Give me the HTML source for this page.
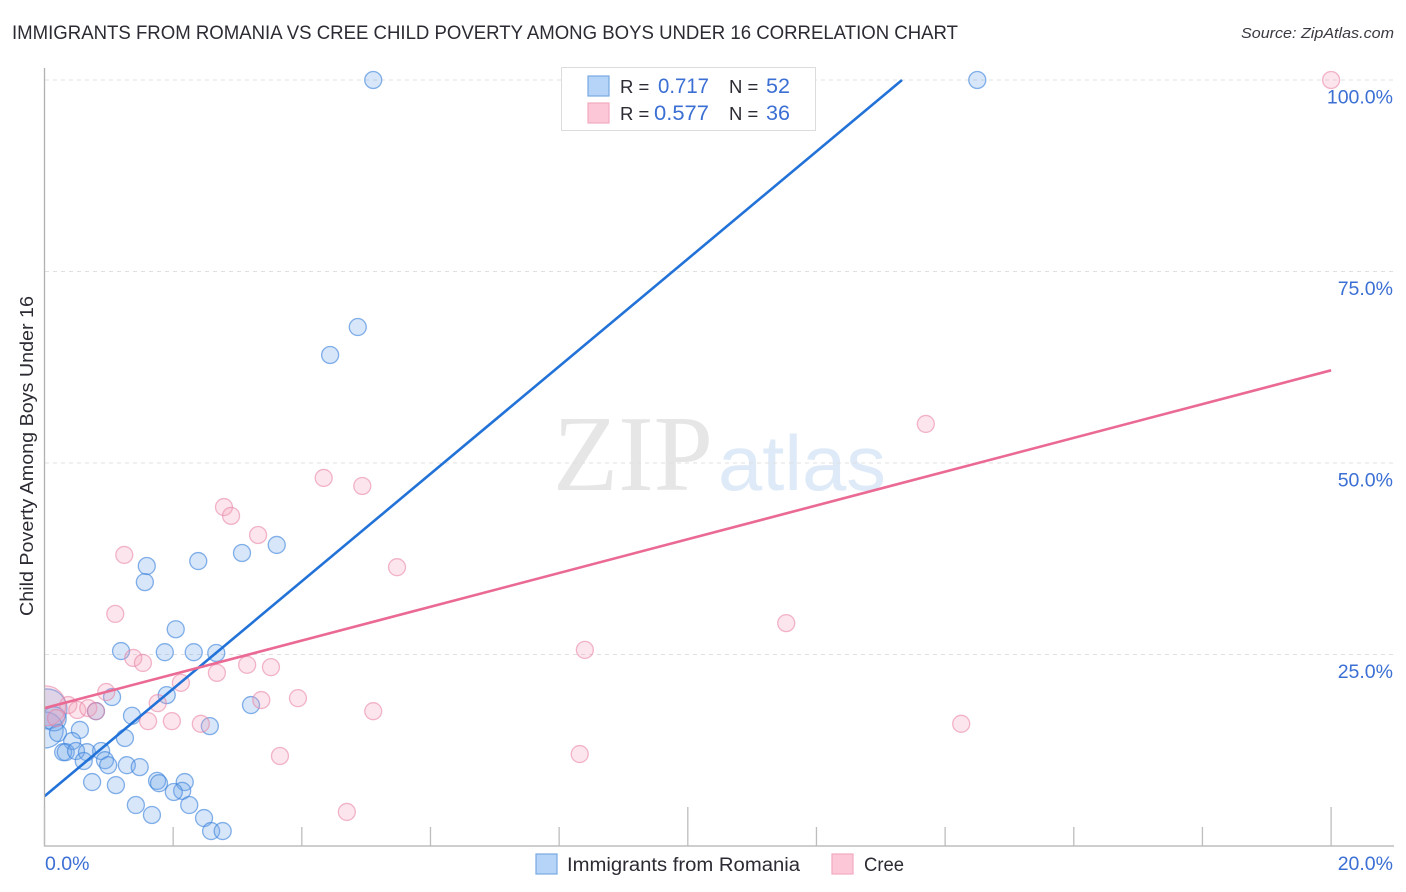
<!DOCTYPE html>
<html lang="en">
<head>
<meta charset="utf-8">
<title>Immigrants from Romania vs Cree Child Poverty Correlation Chart</title>
<style>
html,body{margin:0;padding:0;background:#fff}
svg{display:block}
text{font-family:"Liberation Sans",sans-serif}
</style>
</head>
<body>
<svg id="chart" xmlns="http://www.w3.org/2000/svg" width="1406" height="892" viewBox="0 0 1406 892">
  <defs>
    <clipPath id="plot-clip"><rect x="45" y="60" width="1349" height="786"/></clipPath>
  </defs>
  <text x="12" y="39" font-size="19.5" fill="#2b2b33" textLength="946" lengthAdjust="spacingAndGlyphs">IMMIGRANTS FROM ROMANIA VS CREE CHILD POVERTY AMONG BOYS UNDER 16 CORRELATION CHART</text>
  <text x="1394" y="38" font-size="15" font-style="italic" fill="#3a3a42" text-anchor="end" textLength="153" lengthAdjust="spacingAndGlyphs">Source: ZipAtlas.com</text>

  <g id="watermark">
    <text x="553" y="490" font-size="108" fill="#e6e6e6" textLength="160" lengthAdjust="spacingAndGlyphs" style="font-family:'Liberation Serif',serif">ZIP</text>
    <text x="718" y="490" font-size="78" fill="#deeaf8" textLength="168" lengthAdjust="spacingAndGlyphs">atlas</text>
  </g>

  <g id="grid"></g>
  <g id="points-blue" clip-path="url(#plot-clip)"></g>
  <g id="points-pink" clip-path="url(#plot-clip)"></g>
  <g id="trend-lines" clip-path="url(#plot-clip)"></g>
  <rect x="0" y="60" width="44.5" height="800" fill="#fff"/>
  <g id="axes"></g>
  <g id="tick-labels"></g>

  <text transform="translate(33,456) rotate(-90)" font-size="18" fill="#2b2b33" text-anchor="middle" textLength="320" lengthAdjust="spacingAndGlyphs">Child Poverty Among Boys Under 16</text>

  <g>
    <rect x="561.5" y="67.5" width="254" height="63" fill="#fff" stroke="#dcdcdc" stroke-width="1"/>
    <rect x="588" y="76" width="21" height="20" fill="#b6d3f8" stroke="#78a9e2" stroke-width="1.2"/>
    <rect x="588" y="103" width="21" height="20" fill="#fcc8d8" stroke="#f2a9c0" stroke-width="1.2"/>
    <text x="620" y="93" font-size="18.5" fill="#2b2b33">R =</text>
    <text x="658" y="93" font-size="21" fill="#3b6fd4" textLength="51" lengthAdjust="spacingAndGlyphs">0.717</text>
    <text x="729" y="93" font-size="18.5" fill="#2b2b33">N =</text>
    <text x="766" y="93" font-size="21" fill="#3b6fd4" textLength="24" lengthAdjust="spacingAndGlyphs">52</text>
    <text x="620" y="120" font-size="18.5" fill="#2b2b33">R =</text>
    <text x="654" y="120" font-size="21" fill="#3b6fd4" textLength="55" lengthAdjust="spacingAndGlyphs">0.577</text>
    <text x="729" y="120" font-size="18.5" fill="#2b2b33">N =</text>
    <text x="766" y="120" font-size="21" fill="#3b6fd4" textLength="24" lengthAdjust="spacingAndGlyphs">36</text>
  </g>

  <g>
    <rect x="536" y="854" width="21" height="20" fill="#b6d3f8" stroke="#78a9e2" stroke-width="1.2"/>
    <text x="567" y="871" font-size="19" fill="#2b2b33" textLength="233" lengthAdjust="spacingAndGlyphs">Immigrants from Romania</text>
    <rect x="832" y="854" width="21" height="20" fill="#fcc8d8" stroke="#f2a9c0" stroke-width="1.2"/>
    <text x="864" y="871" font-size="19" fill="#2b2b33" textLength="40" lengthAdjust="spacingAndGlyphs">Cree</text>
  </g>
</svg>
<script>
const blueX = [5.11,14.50,4.87,4.44,3.61,3.07,2.39,1.59,1.56,2.04,1.19,1.87,2.32,2.67,1.90,1.05,3.21,1.36,2.57,0.80,0.55,1.25,0.04,0.01,0.15,0.21,0.43,0.29,0.33,0.49,0.66,0.88,0.61,0.94,0.99,1.28,1.48,0.74,1.11,1.75,1.78,2.18,2.14,2.01,2.25,1.42,1.67,2.48,2.59,2.77,2.96,4.24];
const blueY = [100,100,67.75,64.1,39.3,38.25,37.2,36.55,34.45,28.3,25.45,25.3,25.3,25.2,19.7,19.45,18.4,17,15.65,17.6,15.15,14.1,17.9,15.15,16.6,14.75,13.7,12.25,12.25,12.4,12.25,12.4,11.1,11.2,10.55,10.55,10.3,8.35,7.95,8.5,8.2,8.35,7.2,7.05,5.35,5.35,4.05,3.65,1.95,1.95,8.6,6.0];
const blueWeight = [1,1,1,1,1,1,1,1,1,1,1,1,1,1,1,1,1,1,1,1,1,1,5.5,4.5,2,1,1,1,1,1,1,1,1,1,1,1,1,1,1,1,1,1,1,1,1,1,1,1,1,1];

const pinkX = [1.38,1.53,3.15,3.52,2.68,2.12,0.96,1.76,3.37,3.94,0.37,0.51,0.68,0.80,1.61,1.98,2.43,3.66,0.02,0.18,20,13.70,4.34,4.94,2.79,2.90,3.32,1.24,5.48,1.10,11.53,8.40,5.11,14.25,8.32,4.70];
const pinkY = [24.55,23.9,23.65,23.35,22.6,21.3,20.1,18.65,19.05,19.3,18.4,17.75,18,17.6,16.3,16.3,15.95,11.75,18.3,16.7,100,55.1,48.05,47,44.25,43.1,40.6,38,36.4,30.3,29.1,25.6,17.6,15.95,12,4.45];
const pinkWeight = [1,1,1,1,1,1,1,1,1,1,1,1,1,1,1,1,1,1,5.5,1,1,1,1,1,1,1,1,1,1,1,1,1,1,1,1,1];

const blueTrendX = [0,13.33];
const blueTrendY = [6.5,100];
const pinkTrendX = [0,20];
const pinkTrendY = [18.0,62.1];

const yTicks = [25,50,75,100];
const yTickLabels = ["25.0%","50.0%","75.0%","100.0%"];
const xTicks = [0,2,4,6,8,10,12,14,16,18,20];
const xMajorTicks = [0,10,20];
const xEndLabels = ["0.0%","20.0%"];

const NS = 'http://www.w3.org/2000/svg';
const sx = v => 44.5 + v * 64.33;
const sy = v => 846 - v * 7.66;
const radius = w => 8.5 * Math.sqrt(w);

function make(tag, attrs, parent) {
  const el = document.createElementNS(NS, tag);
  for (const k in attrs) el.setAttribute(k, attrs[k]);
  parent.appendChild(el);
  return el;
}

const grid = document.getElementById('grid');
yTicks.forEach(t => {
  const l = make('line', {x1:45, x2:1394, y1:sy(t), y2:sy(t), stroke:'#e0e0e0', 'stroke-width':1, 'stroke-dasharray':'4 4'}, grid);
  
  
});

const axes = document.getElementById('axes');
const yAxis = make('line', {x1:44.5, x2:44.5, y1:68, y2:846.5, stroke:'#b0b0b0', 'stroke-width':1.3}, axes);


const xAxis = make('line', {x1:44, x2:1394, y1:846, y2:846, stroke:'#b0b0b0', 'stroke-width':1.3}, axes);


xTicks.forEach(t => {
  const top = xMajorTicks.includes(t) ? 807 : 827;
  const tick = make('line', {x1:sx(t), x2:sx(t), y1:top, y2:846, stroke:'#bdbdbd', 'stroke-width':1.3}, axes);
  
  
});

function drawPoints(groupId, xs, ys, ws, fill, stroke, name) {
  const g = document.getElementById(groupId);
  xs.forEach((x, i) => {
    const c = make('circle', {cx:sx(x), cy:sy(ys[i]), r:radius(ws[i]), fill:fill, stroke:stroke, 'stroke-width':1.3}, g);
    
    
  });
}
drawPoints('points-blue', blueX, blueY, blueWeight, 'rgba(110,165,235,0.28)', 'rgba(60,130,220,0.62)', 'romania-point');
drawPoints('points-pink', pinkX, pinkY, pinkWeight, 'rgba(245,160,185,0.28)', 'rgba(232,125,160,0.55)', 'cree-point');

const trends = document.getElementById('trend-lines');
const blueLine = make('line', {x1:sx(blueTrendX[0]), y1:sy(blueTrendY[0]), x2:sx(blueTrendX[1]), y2:sy(blueTrendY[1]), stroke:'#2272d8', 'stroke-width':2.6}, trends);


const pinkLine = make('line', {x1:sx(pinkTrendX[0]), y1:sy(pinkTrendY[0]), x2:sx(pinkTrendX[1]), y2:sy(pinkTrendY[1]), stroke:'#ea6a94', 'stroke-width':2.6}, trends);



const labels = document.getElementById('tick-labels');
yTicks.forEach((t, i) => {
  const tx = make('text', {x:1393, y:sy(t) + 23.5, 'font-size':19.5, fill:'#3b6fd4', 'text-anchor':'end'}, labels);
  
  
  tx.textContent = yTickLabels[i];
});
const xStart = make('text', {x:45, y:870, 'font-size':19.5, fill:'#3b6fd4'}, labels);


xStart.textContent = xEndLabels[0];
const xEnd = make('text', {x:1393, y:870, 'font-size':19.5, fill:'#3b6fd4', 'text-anchor':'end'}, labels);


xEnd.textContent = xEndLabels[1];
</script>
</body>
</html>
